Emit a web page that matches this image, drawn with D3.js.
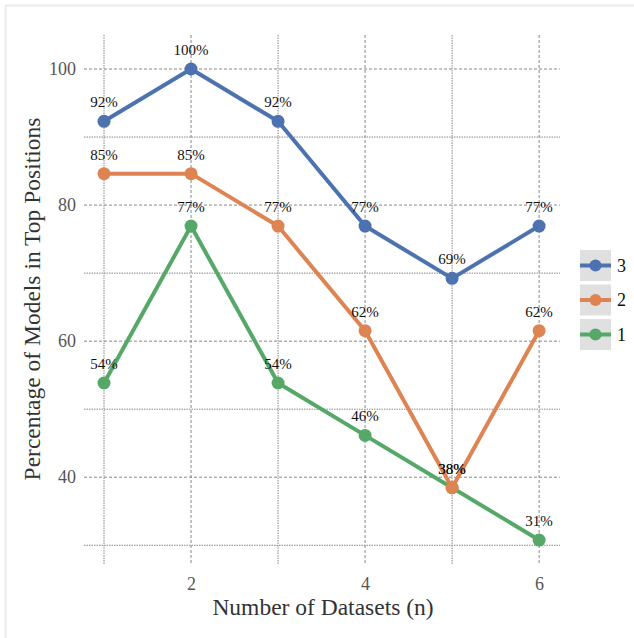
<!DOCTYPE html>
<html>
<head>
<meta charset="utf-8">
<script src="https://cdn.jsdelivr.net/npm/d3@7"></script>
<style>
  body { margin: 0; background: #fff; }
  text { font-family: "Palatino Linotype", Palatino, "Book Antiqua", "Liberation Serif", serif; }
</style>
</head>
<body>
<div id="chart"></div>
<script>
// Data
var datasets = [1, 2, 3, 4, 5, 6];
var xTicks = [2, 4, 6];
var yTicks = [40, 60, 80, 100];
var yMinor = [30, 50, 70, 90];
var seriesNames = ["3", "2", "1"];
var top3 = [92.31, 100, 92.31, 76.92, 69.23, 76.92];
var top2 = [84.62, 84.62, 76.92, 61.54, 38.46, 61.54];
var top1 = [53.85, 76.92, 53.85, 46.15, 38.46, 30.77];
var colors = ["#4c72b0", "#dd8452", "#55a868"];

var series = [top3, top2, top1].map(function (vals, i) {
    return { name: seriesNames[i], color: colors[i], values: vals };
});

var svgWidth = 634;
var svgHeight = 638;

var margin = { top: 35, right: 74, bottom: 73, left: 84 };
var chartWidth = svgWidth - margin.left - margin.right;
var chartHeight = svgHeight - margin.top - margin.bottom;

var svg = d3.select("#chart").append("svg")
    .attr("width", svgWidth)
    .attr("height", svgHeight);

// figure frame (top and left edge)
svg.append("line").attr("x1", 5).attr("x2", svgWidth).attr("y1", 5.5).attr("y2", 5.5)
    .attr("stroke", "#ececec").attr("stroke-width", 2);
svg.append("line").attr("x1", 5.5).attr("x2", 5.5).attr("y1", 5).attr("y2", svgHeight)
    .attr("stroke", "#ececec").attr("stroke-width", 2);

var chartGroup = svg.append("g")
    .attr("transform", `translate(${margin.left}, ${margin.top})`);

// Scales
var xScale = d3.scaleLinear()
    .domain([0.77, 6.24])
    .range([0, chartWidth]);

var yScale = d3.scaleLinear()
    .domain([105, 27.1])
    .range([0, chartHeight]);

// Gridlines
chartGroup.selectAll(".hmajor")
    .data(yTicks)
    .enter()
    .append("line")
    .attr("x1", 0).attr("x2", chartWidth)
    .attr("y1", d => yScale(d)).attr("y2", d => yScale(d))
    .attr("stroke", "#888").attr("stroke-width", 1)
    .attr("stroke-dasharray", "3,2");

chartGroup.selectAll(".hminor")
    .data(yMinor)
    .enter()
    .append("line")
    .attr("x1", 0).attr("x2", chartWidth)
    .attr("y1", d => yScale(d)).attr("y2", d => yScale(d))
    .attr("stroke", "#888").attr("stroke-width", 1)
    .attr("stroke-dasharray", "1.5,1");

chartGroup.selectAll(".vgrid")
    .data(datasets)
    .enter()
    .append("line")
    .attr("x1", d => xScale(d)).attr("x2", d => xScale(d))
    .attr("y1", 0).attr("y2", chartHeight)
    .attr("stroke", "#888").attr("stroke-width", 1)
    .attr("stroke-dasharray", d => xTicks.indexOf(d) >= 0 ? "3,2" : "1.5,1");

// Axes
var bottomAxis = d3.axisBottom(xScale).tickValues(xTicks).tickFormat(d3.format("d"))
    .tickSize(0).tickPadding(12);
var leftAxis = d3.axisLeft(yScale).tickValues(yTicks).tickFormat(d3.format("d"))
    .tickSize(0).tickPadding(8);

var xAxisG = chartGroup.append("g")
    .attr("transform", `translate(0, ${chartHeight})`)
    .call(bottomAxis);
var yAxisG = chartGroup.append("g").call(leftAxis);

[xAxisG, yAxisG].forEach(function (g) {
    g.select(".domain").remove();
    g.selectAll("text")
        .style("font-size", "18px")
        .style("fill", "#555")
        .style("font-family", "'Palatino Linotype', Palatino, 'Liberation Serif', serif");
});

// Lines
var line = d3.line()
    .x((d, i) => xScale(datasets[i]))
    .y(d => yScale(d));

// draw from bottom series up so "3" sits on top
var drawOrder = series.slice().reverse();

drawOrder.forEach(function (s) {
    chartGroup.append("path")
        .datum(s.values)
        .attr("d", line)
        .attr("fill", "none")
        .attr("stroke", s.color)
        .attr("stroke-width", 4)
        .attr("stroke-linejoin", "round");

    chartGroup.selectAll(null)
        .data(s.values)
        .enter()
        .append("circle")
        .attr("cx", (d, i) => xScale(datasets[i]))
        .attr("cy", d => yScale(d))
        .attr("r", 6.5)
        .attr("fill", s.color);
});

// Value labels
series.forEach(function (s) {
    chartGroup.selectAll(null)
        .data(s.values)
        .enter()
        .append("text")
        .attr("x", (d, i) => xScale(datasets[i]))
        .attr("y", d => yScale(d) - 14)
        .style("font-size", "15px")
        .style("text-anchor", "middle")
        .style("fill", "#111")
        .text(d => Math.round(d) + "%");
});

// Axis titles
chartGroup.append("text")
    .attr("transform", "rotate(-90)")
    .attr("x", -(chartHeight / 2) + 1)
    .attr("y", -margin.left + 40)
    .style("text-anchor", "middle")
    .style("font-size", "23.5px")
    .style("fill", "#333")
    .text("Percentage of Models in Top Positions");

chartGroup.append("text")
    .attr("x", chartWidth / 2 + 1)
    .attr("y", chartHeight + 50)
    .style("text-anchor", "middle")
    .style("font-size", "23.5px")
    .style("fill", "#333")
    .text("Number of Datasets (n)");

// Legend
var legend = svg.append("g")
    .attr("transform", "translate(580, 250)");

var items = legend.selectAll("g")
    .data(series)
    .enter()
    .append("g")
    .attr("transform", (d, i) => `translate(0, ${i * 34.5})`);

items.append("rect")
    .attr("width", 31).attr("height", 31)
    .attr("fill", "#e0e0e0");

items.append("line")
    .attr("x1", 0).attr("x2", 31)
    .attr("y1", 15.5).attr("y2", 15.5)
    .attr("stroke", d => d.color)
    .attr("stroke-width", 4);

items.append("circle")
    .attr("cx", 15.5).attr("cy", 15.5).attr("r", 6)
    .attr("fill", d => d.color);

items.append("text")
    .attr("x", 37).attr("y", 21.5)
    .style("font-size", "18px")
    .style("fill", "#111")
    .text(d => d.name);
</script>
</body>
</html>
